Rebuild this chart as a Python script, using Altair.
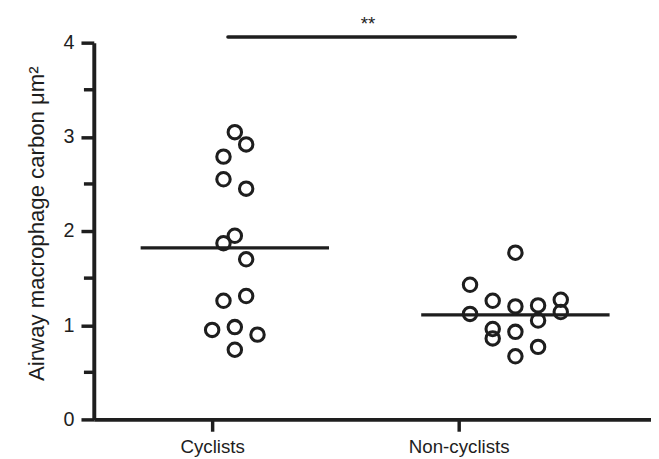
import altair as alt
import pandas as pd

# ---- data ----
groups = ["Cyclists", "Non-cyclists"]
group_pos = [1, 2]

cyc_values = [3.05, 2.92, 2.79, 2.55, 2.45, 1.95, 1.87, 1.70, 1.26, 1.31, 0.95, 0.98, 0.90, 0.74]
cyc_cols = [2, 3, 1, 1, 3, 2, 1, 3, 1, 3, 0, 2, 4, 2]

non_values = [1.77, 1.43, 1.26, 1.20, 1.21, 1.27, 1.12, 1.14, 1.05, 0.96, 0.86, 0.93, 0.77, 0.67]
non_cols = [5, 1, 3, 5, 7, 9, 1, 9, 7, 3, 3, 5, 7, 5]

means = [1.82, 1.11]
mean_center_cols = [2, 5]

sig_y = 4.06
sig_label = "**"

y_ticks = [0, 1, 2, 3, 4]
y_minor = [0.5, 1.5, 2.5, 3.5]

COL_STEP = 0.046      # horizontal jitter step (axis units)
HALF_LINE = 0.382     # half width of mean line (axis units)
INK = "#1e1e1e"
FONT = "Liberation Sans"

rows = []
for v, c in zip(cyc_values, cyc_cols):
    rows.append({"g": groups[0], "x": group_pos[0] + c * COL_STEP, "y": v})
for v, c in zip(non_values, non_cols):
    rows.append({"g": groups[1], "x": group_pos[1] + c * COL_STEP, "y": v})
pts = pd.DataFrame(rows)

mean_df = pd.DataFrame({
    "x": [p + c * COL_STEP - HALF_LINE for p, c in zip(group_pos, mean_center_cols)],
    "x2": [p + c * COL_STEP + HALF_LINE for p, c in zip(group_pos, mean_center_cols)],
    "y": means,
})

sig_df = pd.DataFrame({
    "x": [group_pos[0] + 0.064], "x2": [group_pos[1] + mean_center_cols[1] * COL_STEP],
    "y": [sig_y], "tx": [1.632], "ty": [4.2], "label": [sig_label],
})

minor_df = pd.DataFrame({"y": y_minor})

xdom = [1 - (215 - 95) / 250, 1 + (660 - 215) / 250]
xscale = alt.Scale(domain=xdom, nice=False, zero=False)
yscale = alt.Scale(domain=[0, 4], nice=False)

label_expr = "datum.value == 1 ? 'Cyclists' : (datum.value == 2 ? 'Non-cyclists' : '')"

base = alt.Chart(pts).mark_point(
    shape="circle", size=185, filled=False, stroke=INK, strokeWidth=3.1, opacity=1
).encode(
    x=alt.X("x:Q", scale=xscale, axis=alt.Axis(
        values=group_pos, labelExpr=label_expr, title=None, grid=False,
        domainColor=INK, domainWidth=4, tickColor=INK, tickWidth=3.5, tickSize=12,
        labelFont=FONT, labelFontSize=19, labelColor=INK, labelPadding=7,
        labelFlush=False, labelOverlap=False)),
    y=alt.Y("y:Q", scale=yscale, axis=alt.Axis(
        values=y_ticks, format="d", title="Airway macrophage carbon μm²", grid=False,
        domainColor=INK, domainWidth=4, tickColor=INK, tickWidth=3.5, tickSize=13,
        labelFont=FONT, labelFontSize=20, labelColor=INK, labelPadding=7,
        labelFlush=False,
        titleFont=FONT, titleFontSize=22.5, titleFontWeight="normal", titleColor=INK,
        titleAngle=-90, titleX=-58, titleY=183, titleAlign="center", titleBaseline="middle")),
)

mean_rules = alt.Chart(mean_df).mark_rule(color=INK, strokeWidth=3.3).encode(
    x=alt.X("x:Q", scale=xscale), x2="x2:Q", y=alt.Y("y:Q", scale=yscale))

sig_rule = alt.Chart(sig_df).mark_rule(color=INK, strokeWidth=3.5, strokeCap="round").encode(
    x=alt.X("x:Q", scale=xscale), x2="x2:Q", y=alt.Y("y:Q", scale=yscale))

sig_text = alt.Chart(sig_df).mark_text(font=FONT, fontSize=19, color=INK, baseline="middle").encode(
    x=alt.X("tx:Q", scale=xscale), y=alt.Y("ty:Q", scale=yscale), text="label:N")

minor_ticks = alt.Chart(minor_df).mark_rule(color=INK, strokeWidth=3.5).encode(
    x=alt.value(-10), x2=alt.value(0), y=alt.Y("y:Q", scale=yscale))

chart = alt.layer(mean_rules, base, sig_rule, sig_text, minor_ticks).properties(
    width=565, height=382,
    background="white",
    autosize=alt.AutoSizeParams(type="none"),
    padding={"left": 87, "top": 32, "right": 0, "bottom": 37},
).configure_view(stroke=None, strokeWidth=0).configure_axis(grid=False)

chart.save("out.html", embed_options={"renderer": "svg", "actions": False})
